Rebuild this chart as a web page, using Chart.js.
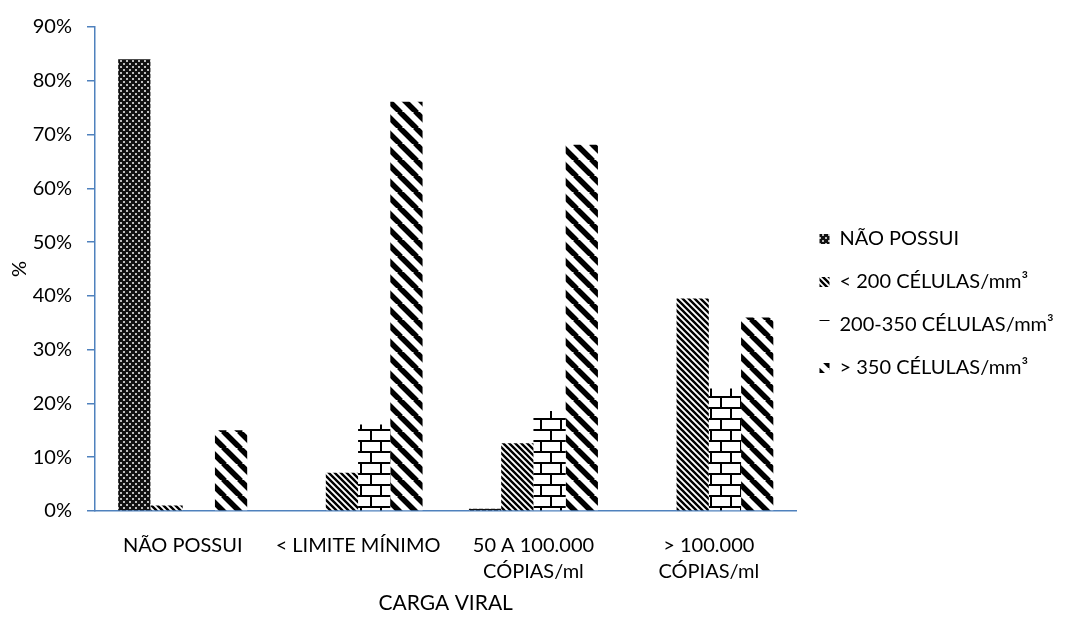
<!DOCTYPE html>
<html>
<head>
<meta charset="utf-8">
<script src="https://cdn.jsdelivr.net/npm/chart.js@4.4.1/dist/chart.umd.min.js"></script>
<style>
  html, body { margin: 0; padding: 0; background: #fff; }
  #wrap { width: 1068px; height: 630px; position: relative; }
</style>
</head>
<body>
<div id="wrap"><canvas id="cargaViral"></canvas></div>
<script>
// categorias (carga viral)
const categories = ['NÃO POSSUI', '< LIMITE MÍNIMO', ['50 A 100.000', 'CÓPIAS/ml'], ['> 100.000', 'CÓPIAS/ml']];

// séries (contagem de CD4), valores em %
const seriesLabels = ['NÃO POSSUI', '< 200 CÉLULAS/mm³', '200-350 CÉLULAS/mm³', '> 350 CÉLULAS/mm³'];
const naoPossui = [84, 0, 0.4, 0];
const abaixo200 = [1, 7.1, 12.6, 39.5];
const entre200e350 = [0, 16.1, 18.6, 22.8];
const acima350 = [15, 76.1, 68.1, 36];

const yTicks = [0, 10, 20, 30, 40, 50, 60, 70, 80, 90];

const AXIS_BLUE = '#4f81bd';
const FONT = 'Lato, "Liberation Sans", sans-serif';

const canvas = document.getElementById('cargaViral');
const ctx = canvas.getContext('2d');

function tile(w, h, draw) {
  const c = document.createElement('canvas');
  c.width = w;
  c.height = h;
  const g = c.getContext('2d');
  g.fillStyle = '#fff';
  g.fillRect(0, 0, w, h);
  draw(g);
  return ctx.createPattern(c, 'repeat');
}

// "\" stripes
function stripes(size, lw) {
  return tile(size, size, g => {
    g.strokeStyle = '#000';
    g.lineWidth = lw;
    g.beginPath();
    for (const o of [-size, 0, size]) {
      g.moveTo(o - 1, -1);
      g.lineTo(o + size + 1, size + 1);
    }
    g.stroke();
  });
}

const patterns = [
  tile(6, 6, g => {
    g.fillStyle = '#111';
    g.fillRect(0, 0, 6, 6);
    g.fillStyle = '#bdbdbd';
    g.fillRect(0, 0, 2, 2);
    g.fillRect(3, 3, 2, 2);
  }),
  stripes(6, 2.4),
  tile(20, 22, g => {
    g.fillStyle = '#000';
    g.fillRect(0, 0, 20, 2);
    g.fillRect(0, 11, 20, 2);
    g.fillRect(0, 0, 2, 11);
    g.fillRect(10, 11, 2, 11);
  }),
  stripes(16, 5.5)
];

const seriesData = [naoPossui, abaixo200, entre200e350, acima350];

const chart = new Chart(ctx, {
  type: 'bar',
  data: {
    labels: categories,
    datasets: seriesData.map((data, i) => ({
      label: seriesLabels[i],
      data,
      backgroundColor: patterns[i],
      borderWidth: 0,
      categoryPercentage: 0.7356,
      barPercentage: 1
    }))
  },
  options: {
    responsive: true,
    maintainAspectRatio: false,
    animation: false,
    layout: {
      padding: { top: 26, right: 6, bottom: 0, left: 0 }
    },
    plugins: {
      tooltip: { enabled: false },
      legend: {
        position: 'right',
        align: 'start',
        // empty title only pushes the items down to where they sit in the original
        title: {
          display: true,
          text: ' ',
          font: { size: 10 },
          padding: { top: 0, bottom: 168 }
        },
        labels: {
          boxWidth: 10,
          boxHeight: 10,
          padding: 23,
          color: '#000',
          font: { family: FONT, size: 20 }
        }
      }
    },
    scales: {
      x: {
        afterFit: scale => { scale.height = 119; },
        grid: { display: false },
        border: { display: true, color: AXIS_BLUE, width: 1.5 },
        ticks: {
          color: '#000',
          font: { family: FONT, size: 20, lineHeight: 1.33 },
          maxRotation: 0,
          padding: 13
        },
        title: {
          display: true,
          text: 'CARGA VIRAL',
          color: '#000',
          font: { family: FONT, size: 21 },
          padding: { top: 8, bottom: 14 }
        }
      },
      y: {
        min: 0,
        max: 90,
        afterFit: scale => { scale.width = 95; },
        afterBuildTicks: scale => { scale.ticks = yTicks.map(v => ({ value: v })); },
        grid: {
          drawOnChartArea: false,
          drawTicks: true,
          tickLength: 8,
          tickColor: AXIS_BLUE,
          lineWidth: 1.5
        },
        border: { display: true, color: AXIS_BLUE, width: 1.5 },
        ticks: {
          color: '#000',
          font: { family: FONT, size: 20 },
          padding: 15,
          callback: v => v + '%'
        },
        title: {
          display: true,
          text: '%',
          color: '#000',
          font: { family: FONT, size: 20 },
          padding: { top: 8, bottom: 0 }
        }
      }
    }
  }
});
</script>
</body>
</html>
